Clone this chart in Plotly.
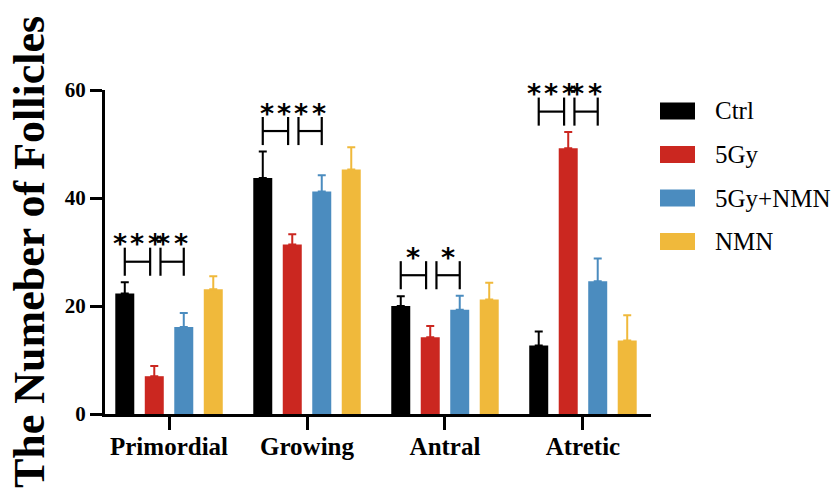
import plotly.graph_objects as go

# ---- data -------------------------------------------------------------
categories = ["Primordial", "Growing", "Antral", "Atretic"]
groups = ["Ctrl", "5Gy", "5Gy+NMN", "NMN"]

ctrl_mean = [22.3, 43.7, 20.0, 12.7]
gy5_mean = [7.0, 31.4, 14.2, 49.2]
gy5_nmn_mean = [16.1, 41.2, 19.3, 24.6]
nmn_mean = [23.1, 45.3, 21.2, 13.6]

ctrl_err = [2.1, 4.9, 1.8, 2.6]
gy5_err = [1.9, 1.9, 2.1, 3.0]
gy5_nmn_err = [2.6, 3.0, 2.6, 4.2]
nmn_err = [2.4, 4.1, 3.1, 4.7]

# significance stars: (Ctrl vs 5Gy, 5Gy vs 5Gy+NMN) per category
sig_ctrl_vs_5gy = ["***", "**", "*", "***"]
sig_5gy_vs_nmn = ["**", "**", "*", "**"]

y_ticks = [0, 20, 40, 60]

# ---- styling ----------------------------------------------------------
colors = ["#000000", "#cb2720", "#4b8cbf", "#f0b93b"]
SERIF = "Liberation Serif, Times New Roman, serif"

W, H = 838, 491
L, R, T, B = 105, 651, 90, 414
BARGAP = 0.145
BARGROUPGAP = 0.356


def xp(px):
    return (px - L) / (R - L)


def yp(py):
    return (B - py) / (B - T)


means = [ctrl_mean, gy5_mean, gy5_nmn_mean, nmn_mean]
errs = [ctrl_err, gy5_err, gy5_nmn_err, nmn_err]

fig = go.Figure()
for name, m, e, c in zip(groups, means, errs, colors):
    fig.add_trace(go.Bar(
        x=categories, y=m, name=name,
        marker=dict(color=c, line=dict(width=0)),
        error_y=dict(type="data", array=e, arrayminus=[0] * len(e),
                     symmetric=False, color=c, thickness=2, width=4),
        showlegend=False,
    ))

# bar centre offsets inside a category slot
slot = (1 - BARGAP) / len(groups)
offs = [(-1.5 + i) * slot for i in range(len(groups))]

shapes = []
annotations = []


def bracket(x0, x1, y0, y1, label):
    lw = dict(color="black", width=2.2)
    ym = (y0 + y1) / 2
    shapes.append(dict(type="line", x0=x0, x1=x0, y0=y0, y1=y1, xref="x", yref="y", line=lw))
    shapes.append(dict(type="line", x0=x1, x1=x1, y0=y0, y1=y1, xref="x", yref="y", line=lw))
    shapes.append(dict(type="line", x0=x0, x1=x1, y0=ym, y1=ym, xref="x", yref="y", line=lw))
    n = len(label)
    xc = (x0 + x1) / 2
    for k in range(n):
        annotations.append(dict(
            x=xc, y=y1, xref="x", yref="y", text="*", showarrow=False,
            xanchor="center", yanchor="middle",
            xshift=(k - (n - 1) / 2) * 17.5, yshift=4,
            font=dict(family="DejaVu Sans, sans-serif", size=27, color="black", weight="bold"),
        ))


for ci in range(len(categories)):
    base = max(means[g][ci] + errs[g][ci] for g in range(3)) + 1.2
    top = base + 5.2
    bracket(ci + offs[0], ci + offs[1] - 0.03, base, top, sig_ctrl_vs_5gy[ci])
    bracket(ci + offs[1] + 0.045, ci + offs[2], base, top, sig_5gy_vs_nmn[ci])

# legend drawn as colour boxes with labels
for i, (name, c) in enumerate(zip(groups, colors)):
    cy = 111 + i * 43.5
    shapes.append(dict(type="rect", xref="paper", yref="paper",
                       x0=xp(660), x1=xp(695), y0=yp(cy + 8.5), y1=yp(cy - 8.5),
                       fillcolor=c, line=dict(width=0)))
    annotations.append(dict(x=xp(713), y=yp(cy), xref="paper", yref="paper",
                            text=name, showarrow=False, xanchor="left", yanchor="middle",
                            font=dict(family=SERIF, size=25, color="black")))

# y-axis title
annotations.append(dict(x=xp(29), y=yp(252), xref="paper", yref="paper",
                        text="The Numeber of Follicles", showarrow=False, textangle=-90,
                        xanchor="center", yanchor="middle",
                        font=dict(family=SERIF, size=44, color="black", weight="bold")))

fig.update_layout(
    width=W, height=H,
    margin=dict(l=L, r=W - R, t=T, b=H - B, pad=0),
    paper_bgcolor="white", plot_bgcolor="white",
    barmode="group", bargap=BARGAP, bargroupgap=BARGROUPGAP,
    shapes=shapes, annotations=annotations,
    xaxis=dict(
        range=[-0.464, 3.493], showgrid=False, zeroline=False,
        showline=True, linecolor="black", linewidth=3,
        ticks="outside", ticklen=13, tickwidth=3, tickcolor="black",
        ticklabelstandoff=-5,
        tickfont=dict(family=SERIF, size=25, color="black", weight="bold"),
    ),
    yaxis=dict(
        range=[0, 60], tickvals=y_ticks, showgrid=False, zeroline=False,
        showline=True, linecolor="black", linewidth=3,
        ticks="outside", ticklen=12, tickwidth=3, tickcolor="black",
        tickfont=dict(family=SERIF, size=21, color="black", weight="bold"),
    ),
)

fig.write_html("out.html")
